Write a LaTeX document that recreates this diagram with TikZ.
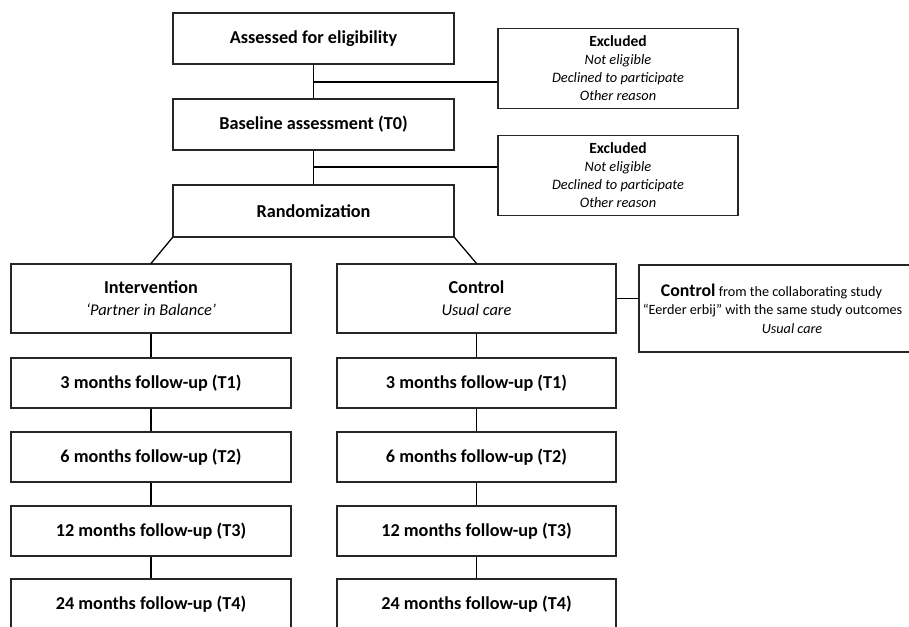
\documentclass[tikz,border=0pt]{standalone}
\usepackage{fontspec}
\setmainfont{Carlito}
\begin{document}
\begin{tikzpicture}[x=1pt,y=-1pt,
  box/.style={draw=black!85, line width=1.1pt, rectangle, inner sep=0pt, align=center},
  mainbox/.style={box, minimum width=281pt, minimum height=51pt, font=\fontsize{18.2}{22}\selectfont\bfseries},
  fubox/.style={box, minimum width=280pt, minimum height=50pt, font=\fontsize{18.2}{22}\selectfont\bfseries},
  exbox/.style={box, minimum width=240pt, minimum height=80pt, font=\fontsize{14.4}{18}\selectfont},
  armbox/.style={box, minimum width=280pt, minimum height=69pt, font=\fontsize{18.2}{22}\selectfont},
  conn/.style={draw=black, line width=1.3pt}]
\clip (0,0) rectangle (909,626);
\fill[white] (0,0) rectangle (909,626);

\node[mainbox] (assess) at (313.5,38.5) {Assessed for eligibility};
\node[mainbox] (base) at (313.5,124.5) {Baseline assessment (T0)};
\node[mainbox, minimum height=52pt] (rand) at (313.5,211) {Randomization};

\node[exbox] (ex1) at (618,68.5) {{\fontsize{15.5}{18}\selectfont\bfseries Excluded}\\\textit{Not eligible}\\\textit{Declined to participate}\\\textit{Other reason}};
\node[exbox] (ex2) at (618,175.5) {{\fontsize{15.5}{18}\selectfont\bfseries Excluded}\\\textit{Not eligible}\\\textit{Declined to participate}\\\textit{Other reason}};

\node[armbox] (int) at (151,298.5) {\textbf{Intervention}\\{\fontsize{16.4}{22}\selectfont\itshape ‘Partner in Balance’}};
\node[armbox, minimum width=279pt] (ctrl) at (476.5,298.5) {\textbf{Control}\\{\fontsize{16.4}{22}\selectfont\itshape Usual care}};

\node[box, minimum width=306pt, minimum height=87pt, font=\fontsize{14.2}{18.5}\selectfont] (ext) at (792,308.5)
  {{\fontsize{17.8}{18.5}\selectfont\bfseries Control} from the collaborating study\rule{41pt}{0pt}\\“Eerder erbij” with the same study outcomes\rule{39pt}{0pt}\\\textit{Usual care}};

\node[fubox] (i1) at (151,383) {3 months follow-up (T1)};
\node[fubox] (i2) at (151,457) {6 months follow-up (T2)};
\node[fubox] (i3) at (151,531) {12 months follow-up (T3)};
\node[fubox] (i4) at (151,604) {24 months follow-up (T4)};
\node[fubox, minimum width=279pt] (c1) at (476.5,383) {3 months follow-up (T1)};
\node[fubox, minimum width=279pt] (c2) at (476.5,457) {6 months follow-up (T2)};
\node[fubox, minimum width=279pt] (c3) at (476.5,531) {12 months follow-up (T3)};
\node[fubox, minimum width=279pt] (c4) at (476.5,604) {24 months follow-up (T4)};

\coordinate (j1) at (313.5,82);
\coordinate (j2) at (313.5,167);

\draw[conn] (assess.south) -- (base.north);
\draw[conn] (j1) -- (j1 -| ex1.west);
\draw[conn] (base.south) -- (rand.north);
\draw[conn] (j2) -- (j2 -| ex2.west);
\draw[conn] (rand.south west) -- (int.north);
\draw[conn] (rand.south east) -- (ctrl.north);
\draw[conn] (ctrl.east) -- (ctrl.east -| ext.west);
\draw[conn] (int.south) -- (i1.north);
\draw[conn] (i1.south) -- (i2.north);
\draw[conn] (i2.south) -- (i3.north);
\draw[conn] (i3.south) -- (i4.north);
\draw[conn] (ctrl.south) -- (c1.north);
\draw[conn] (c1.south) -- (c2.north);
\draw[conn] (c2.south) -- (c3.north);
\draw[conn] (c3.south) -- (c4.north);
\end{tikzpicture}
\end{document}
